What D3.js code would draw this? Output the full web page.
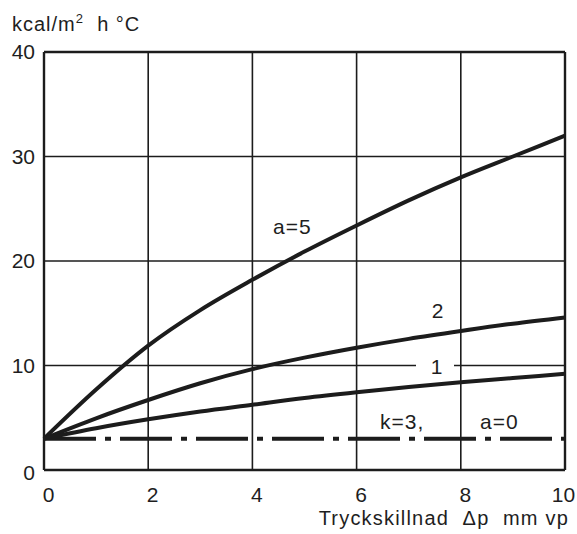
<!DOCTYPE html>
<html>
<head>
<meta charset="utf-8">
<script src="https://cdn.jsdelivr.net/npm/d3@7"></script>
<style>
  html, body { margin: 0; padding: 0; background: #ffffff; }
  svg text { font-family: "Liberation Sans", Arial, Helvetica, sans-serif; fill: #1e1e1e; }
</style>
</head>
<body>
<svg id="chart" width="577" height="534"></svg>
<script>
// Heat transfer coefficient vs. pressure difference
const pressure = [0, 1, 2, 3, 4, 5, 6, 7, 8, 9, 10];          // Δp, mm vp
const seriesA5 = [3, 7.7, 11.9, 15.3, 18.2, 20.9, 23.4, 25.8, 28.0, 30.0, 32.0];
const seriesA2 = [3, 4.95, 6.7, 8.3, 9.65, 10.75, 11.7, 12.55, 13.3, 14.0, 14.6];
const seriesA1 = [3, 4.0, 4.85, 5.6, 6.25, 6.9, 7.45, 7.95, 8.4, 8.8, 9.2];
const baseline = [3, 3];                                       // k=3, a=0
const baselineX = [0, 10];
const xTicks = [0, 2, 4, 6, 8, 10];
const yTicks = [0, 10, 20, 30, 40];
const curveLabels = ["a=5", "2", "1"];

const ink = "#1c1c1c";
const svg = d3.select("#chart");
const x = d3.scaleLinear().domain([0, 10]).range([44, 565]);
const y = d3.scaleLinear().domain([0, 40]).range([470, 52]);

// grid lines
const grid = svg.append("g");
grid.selectAll("line.v").data(xTicks).join("line")
  .attr("x1", d => x(d)).attr("x2", d => x(d))
  .attr("y1", y(0)).attr("y2", y(40))
  .attr("stroke", ink).attr("stroke-width", d => (d === 0 || d === 10) ? 2.4 : 1.6);
grid.selectAll("line.h").data(yTicks).join("line")
  .attr("x1", x(0)).attr("x2", x(10))
  .attr("y1", d => y(d)).attr("y2", d => y(d))
  .attr("stroke", ink).attr("stroke-width", d => (d === 0 || d === 40) ? 2.4 : 1.6);

// axis tick labels
const xAxis = svg.append("g")
  .attr("transform", `translate(4,${y(0)})`)
  .call(d3.axisBottom(x).tickValues(xTicks).tickSize(0).tickPadding(17).tickFormat(d3.format("d")));
const yAxis = svg.append("g")
  .attr("transform", `translate(${x(0)},0)`)
  .call(d3.axisLeft(y).tickValues(yTicks).tickSize(0).tickPadding(9).tickFormat(d3.format("d")));
[xAxis, yAxis].forEach(a => {
  a.select(".domain").remove();
  a.selectAll("text").attr("font-size", 21).attr("fill", "#1e1e1e")
    .attr("font-family", "'Liberation Sans', Arial, sans-serif");
});
yAxis.selectAll(".tick").filter(d => d === 0).select("text").attr("dy", "0.45em");
xAxis.selectAll(".tick").filter(d => d === 10).select("text").attr("dx", -6);

// gap in the 10-line around the curve label "1"
svg.append("rect").attr("x", 416).attr("y", y(10) - 3).attr("width", 38).attr("height", 6).attr("fill", "#ffffff");

// curves
const line = d3.line().x((d, i) => x(pressure[i])).y(d => y(d)).curve(d3.curveMonotoneX);
[seriesA5, seriesA2, seriesA1].forEach(s => {
  svg.append("path").datum(s).attr("d", line)
    .attr("fill", "none").attr("stroke", ink).attr("stroke-width", 4).attr("stroke-linejoin", "round");
});

// k=3, a=0 dash-dot line
const flat = d3.line().x((d, i) => x(baselineX[i])).y(d => y(d));
svg.append("path").datum(baseline).attr("d", flat)
  .attr("fill", "none").attr("stroke", ink).attr("stroke-width", 4)
  .attr("stroke-dasharray", "52,9,6,9");

// curve labels
const labelFont = 21;
const lab = (tx, ty, t, anchor) => svg.append("text").attr("x", tx).attr("y", ty)
  .attr("text-anchor", anchor || "start").attr("font-size", labelFont).attr("letter-spacing", 1).text(t);
lab(273, 234, curveLabels[0]);
lab(438, 318, curveLabels[1], "middle");
lab(437, 374, curveLabels[2], "middle");
lab(380, 429, "k=3,");
lab(480, 429, "a=0");

// axis titles
const yTitle = svg.append("text").attr("x", 12).attr("y", 31).attr("font-size", 20).attr("letter-spacing", 1);
yTitle.append("tspan").text("kcal/m");
yTitle.append("tspan").attr("font-size", 13).attr("dy", -8).text("2");
yTitle.append("tspan").attr("dy", 8).attr("xml:space", "preserve").text("  h \u00B0C");

svg.append("text").attr("x", 569).attr("y", 525).attr("text-anchor", "end").attr("font-size", 20)
  .attr("letter-spacing", 1.2).attr("xml:space", "preserve").text("Tryckskillnad  \u0394p  mm vp");
</script>
</body>
</html>
